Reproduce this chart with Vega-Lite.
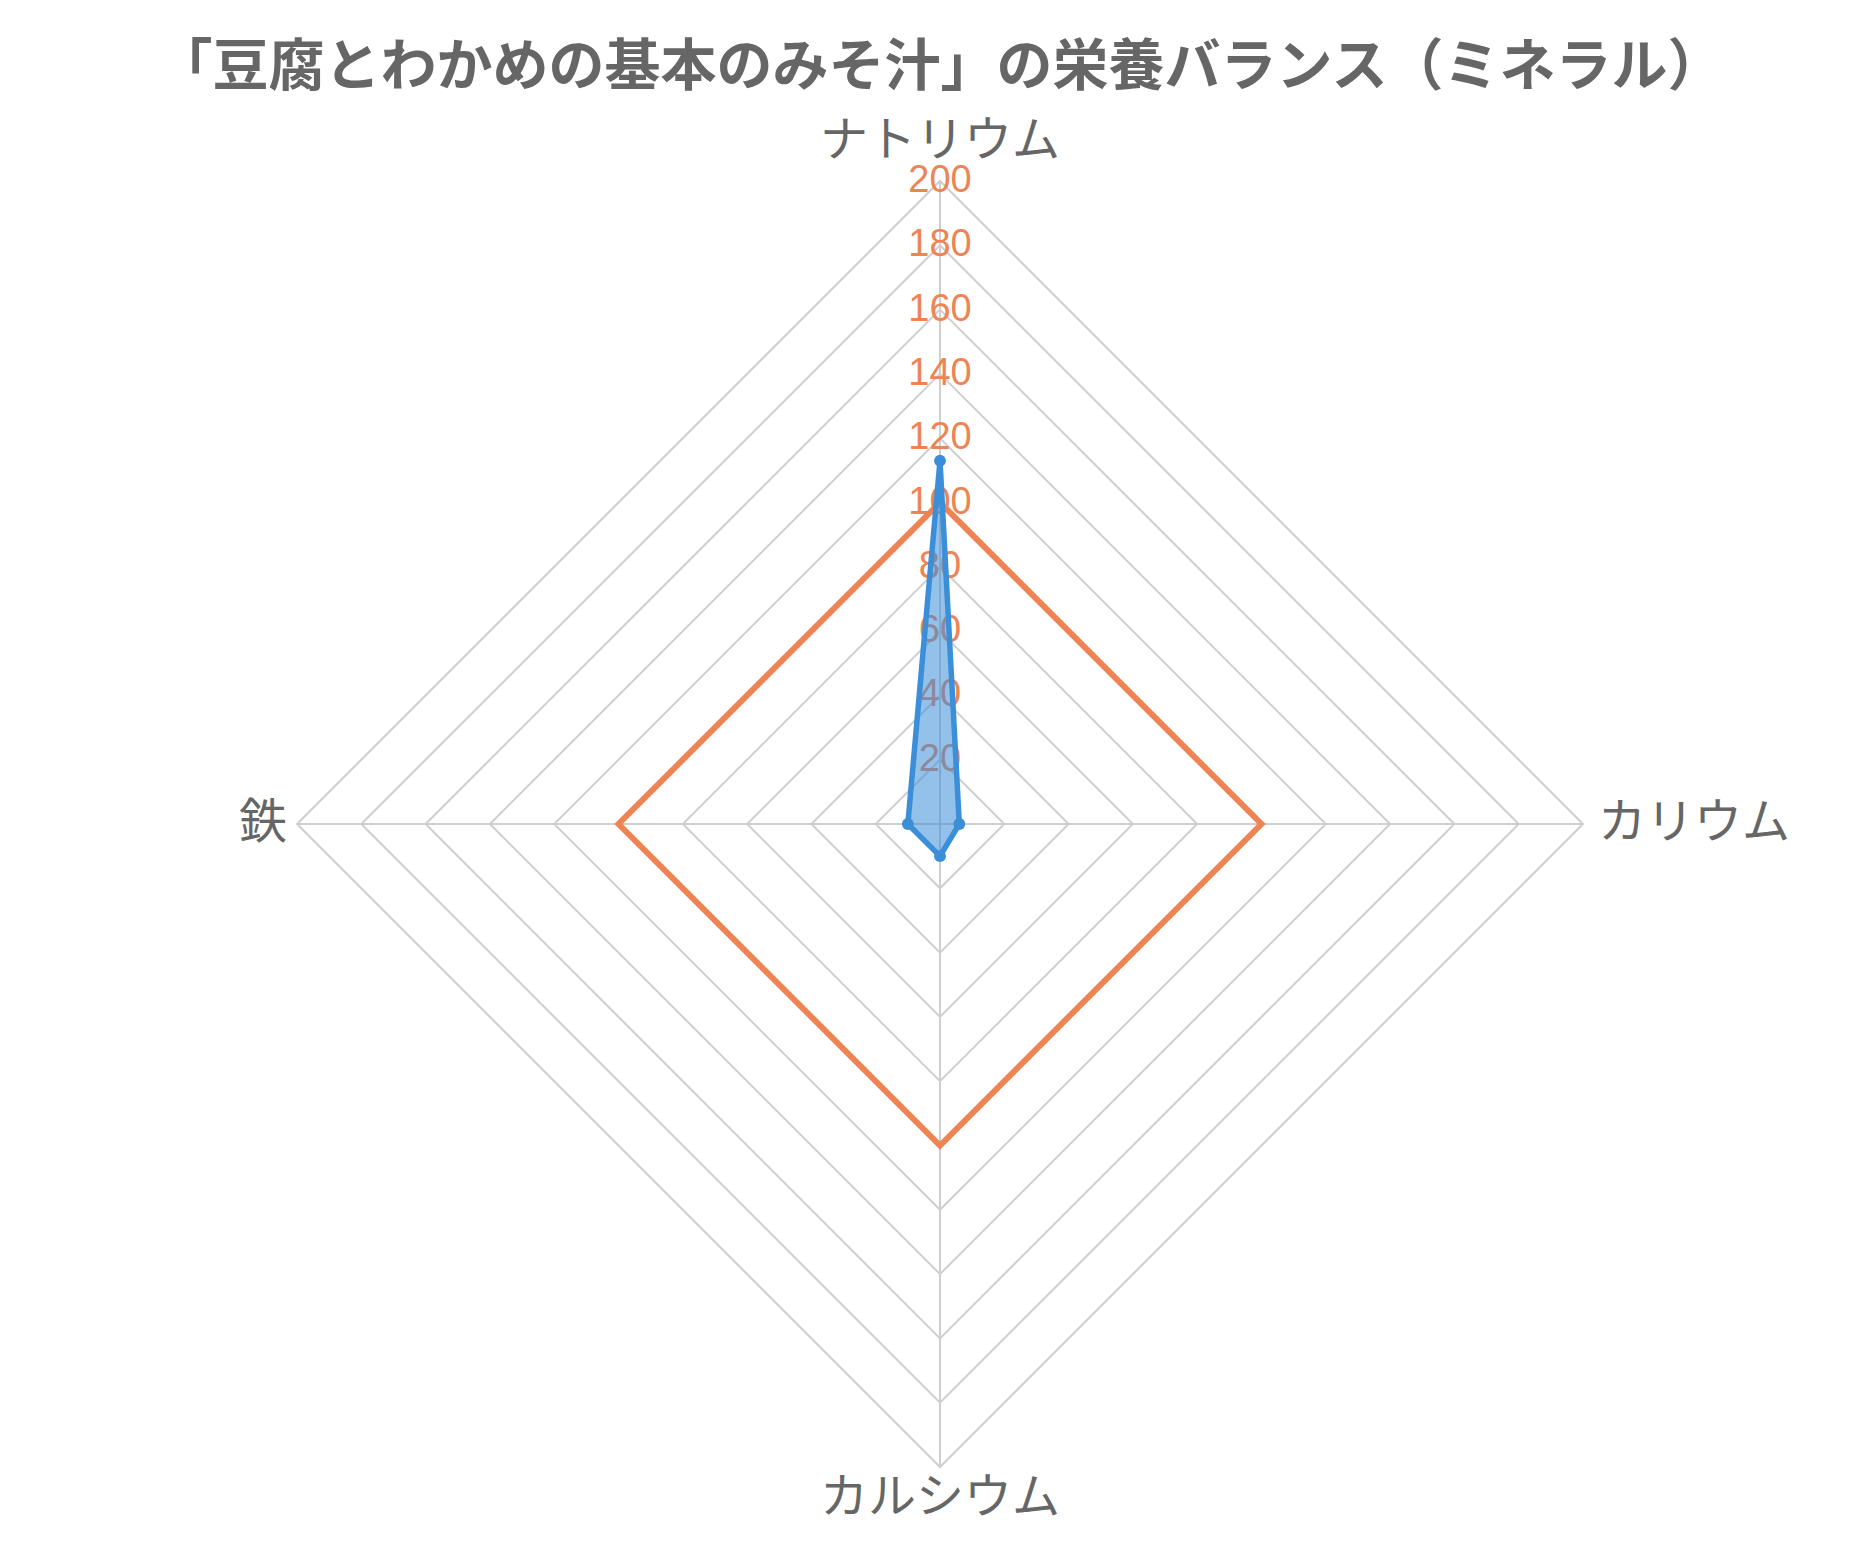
{
  "$schema": "https://vega.github.io/schema/vega-lite/v6.json",
  "width": 1286,
  "height": 1286,
  "autosize": {"type": "none"},
  "padding": {"left": 297, "top": 181, "right": 287, "bottom": 83},
  "background": "white",
  "config": {"view": {"stroke": null}},
  "title": {
    "text": "「豆腐とわかめの基本のみそ汁」の栄養バランス（ミネラル）",
    "font": "Noto Sans CJK JP",
    "fontSize": 56,
    "fontWeight": "bold",
    "color": "#666666",
    "anchor": "middle",
    "baseline": "alphabetic",
    "offset": -23
  },
  "datasets": {
    "nutri": [
      {"axis": "ナトリウム", "i": 0, "value": 113, "target": 100},
      {"axis": "カリウム", "i": 1, "value": 6, "target": 100},
      {"axis": "カルシウム", "i": 2, "value": 10, "target": 100},
      {"axis": "鉄", "i": 3, "value": 10, "target": 100}
    ],
    "rings": [
      {"level": 20, "i": [0, 1, 2, 3]},
      {"level": 40, "i": [0, 1, 2, 3]},
      {"level": 60, "i": [0, 1, 2, 3]},
      {"level": 80, "i": [0, 1, 2, 3]},
      {"level": 100, "i": [0, 1, 2, 3]},
      {"level": 120, "i": [0, 1, 2, 3]},
      {"level": 140, "i": [0, 1, 2, 3]},
      {"level": 160, "i": [0, 1, 2, 3]},
      {"level": 180, "i": [0, 1, 2, 3]},
      {"level": 200, "i": [0, 1, 2, 3]}
    ]
  },
  "encoding": {
    "x": {"field": "x", "type": "quantitative", "scale": {"domain": [-200, 200], "nice": false, "zero": false}, "axis": null},
    "y": {"field": "y", "type": "quantitative", "scale": {"domain": [-200, 200], "nice": false, "zero": false}, "axis": null}
  },
  "layer": [
    {
      "data": {"name": "rings"},
      "transform": [
        {"flatten": ["i"]},
        {"calculate": "datum.i * PI / 2", "as": "ang"},
        {"calculate": "datum.level * sin(datum.ang)", "as": "x"},
        {"calculate": "datum.level * cos(datum.ang)", "as": "y"}
      ],
      "mark": {"type": "line", "interpolate": "linear-closed", "stroke": "#cfcfcf", "strokeWidth": 2},
      "encoding": {
        "detail": {"field": "level", "type": "nominal"},
        "order": {"field": "i", "type": "quantitative"}
      }
    },
    {
      "data": {"name": "nutri"},
      "transform": [
        {"calculate": "datum.i * PI / 2", "as": "ang"},
        {"calculate": "200 * sin(datum.ang)", "as": "x"},
        {"calculate": "200 * cos(datum.ang)", "as": "y"}
      ],
      "mark": {"type": "rule", "stroke": "#cfcfcf", "strokeWidth": 2},
      "encoding": {
        "x2": {"datum": 0},
        "y2": {"datum": 0}
      }
    },
    {
      "data": {"name": "rings"},
      "transform": [
        {"calculate": "0", "as": "x"},
        {"calculate": "datum.level", "as": "y"}
      ],
      "mark": {"type": "text", "font": "Liberation Sans", "fontSize": 38, "color": "#EE8454", "align": "center", "baseline": "middle"},
      "encoding": {
        "text": {"field": "level", "type": "quantitative"}
      }
    },
    {
      "data": {"name": "nutri"},
      "transform": [
        {"calculate": "datum.i * PI / 2", "as": "ang"},
        {"calculate": "datum.target * sin(datum.ang)", "as": "x"},
        {"calculate": "datum.target * cos(datum.ang)", "as": "y"}
      ],
      "mark": {"type": "line", "interpolate": "linear-closed", "stroke": "#EE8454", "strokeWidth": 6},
      "encoding": {
        "order": {"field": "i", "type": "quantitative"}
      }
    },
    {
      "data": {"name": "nutri"},
      "transform": [
        {"calculate": "datum.i * PI / 2", "as": "ang"},
        {"calculate": "datum.value * sin(datum.ang)", "as": "x"},
        {"calculate": "datum.value * cos(datum.ang)", "as": "y"}
      ],
      "mark": {"type": "line", "interpolate": "linear-closed", "stroke": "#3b8ed8", "strokeWidth": 5.5, "fill": "#3b8ed8", "fillOpacity": 0.55, "strokeJoin": "round"},
      "encoding": {
        "order": {"field": "i", "type": "quantitative"}
      }
    },
    {
      "data": {"name": "nutri"},
      "transform": [
        {"calculate": "datum.i * PI / 2", "as": "ang"},
        {"calculate": "datum.value * sin(datum.ang)", "as": "x"},
        {"calculate": "datum.value * cos(datum.ang)", "as": "y"}
      ],
      "mark": {"type": "point", "filled": true, "color": "#3b8ed8", "opacity": 1, "size": 140}
    },
    {
      "data": {"name": "nutri"},
      "transform": [
        {"filter": "datum.i == 0"},
        {"calculate": "0", "as": "x"},
        {"calculate": "200", "as": "y"}
      ],
      "mark": {"type": "text", "font": "Noto Sans CJK JP", "fontSize": 48, "color": "#666666", "align": "center", "baseline": "middle", "dy": -39},
      "encoding": {"text": {"field": "axis"}}
    },
    {
      "data": {"name": "nutri"},
      "transform": [
        {"filter": "datum.i == 1"},
        {"calculate": "200", "as": "x"},
        {"calculate": "0", "as": "y"}
      ],
      "mark": {"type": "text", "font": "Noto Sans CJK JP", "fontSize": 48, "color": "#666666", "align": "left", "baseline": "middle", "dx": 15},
      "encoding": {"text": {"field": "axis"}}
    },
    {
      "data": {"name": "nutri"},
      "transform": [
        {"filter": "datum.i == 2"},
        {"calculate": "0", "as": "x"},
        {"calculate": "-200", "as": "y"}
      ],
      "mark": {"type": "text", "font": "Noto Sans CJK JP", "fontSize": 48, "color": "#666666", "align": "center", "baseline": "middle", "dy": 32},
      "encoding": {"text": {"field": "axis"}}
    },
    {
      "data": {"name": "nutri"},
      "transform": [
        {"filter": "datum.i == 3"},
        {"calculate": "-200", "as": "x"},
        {"calculate": "0", "as": "y"}
      ],
      "mark": {"type": "text", "font": "Noto Sans CJK JP", "fontSize": 48, "color": "#666666", "align": "right", "baseline": "middle", "dx": -10},
      "encoding": {"text": {"field": "axis"}}
    }
  ]
}
